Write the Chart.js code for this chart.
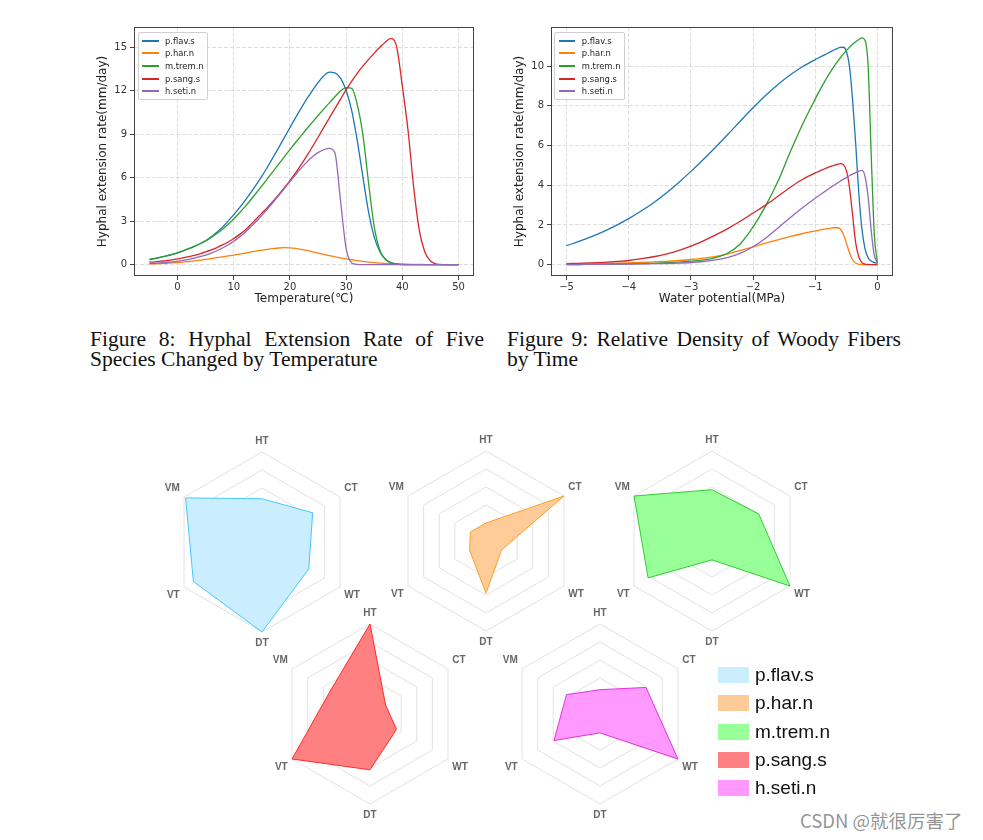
<!DOCTYPE html>
<html><head><meta charset="utf-8">
<script src="https://cdn.jsdelivr.net/npm/chart.js@4.4.1/dist/chart.umd.min.js"></script>
<style>
body{margin:0;background:#fff;}
#page{position:relative;width:983px;height:840px;overflow:hidden;background:#fff;}
canvas{position:absolute;}
.cap{position:absolute;font-family:'Liberation Serif','Times New Roman',serif;font-size:21.5px;line-height:20px;height:20px;color:#111;width:394px;}
.j{text-align:justify;text-align-last:justify;}
.lleg{position:absolute;background:rgba(255,255,255,0.85);border:1px solid #d0d0d0;border-radius:2px;box-sizing:border-box;}
.lrow{position:absolute;left:0;height:12px;width:100%;}
.lh{position:absolute;left:3.5px;top:5px;width:16.5px;height:2px;}
.lt{position:absolute;left:26.5px;top:0;line-height:12px;font-family:'DejaVu Sans',sans-serif;font-size:8.4px;color:#222;white-space:nowrap;}
.rrow{position:absolute;left:718px;height:16px;}
.rsw{position:absolute;left:0;top:0;width:31px;height:16px;}
.rt{position:absolute;left:37px;top:-4px;line-height:24px;font-family:'Liberation Sans',Arial,sans-serif;font-size:19px;color:#111;white-space:nowrap;}
#wm{position:absolute;left:800px;top:808px;font-family:'Noto Sans CJK SC',sans-serif;font-size:18.5px;line-height:24px;color:rgba(120,120,120,0.8);white-space:nowrap;}
</style></head>
<body><div id="page">
<canvas id="c1" width="410" height="300" style="left:80px;top:15px"></canvas>
<canvas id="c2" width="410" height="300" style="left:497px;top:15px"></canvas>
<div class="cap j" style="left:90px;top:329px">Figure 8:  Hyphal Extension Rate of Five</div>
<div class="cap" style="left:90px;top:349px">Species Changed by Temperature</div>
<div class="cap j" style="left:507px;top:329px">Figure 9: Relative Density of Woody Fibers</div>
<div class="cap" style="left:507px;top:349px">by Time</div>
<canvas id="r1" width="240" height="215" style="left:142px;top:435px"></canvas>
<canvas id="r2" width="240" height="215" style="left:366px;top:434px"></canvas>
<canvas id="r3" width="240" height="215" style="left:592px;top:434px"></canvas>
<canvas id="r4" width="240" height="215" style="left:250px;top:607px"></canvas>
<canvas id="r5" width="240" height="215" style="left:480px;top:607px"></canvas>
<div id="wm">CSDN @就很厉害了</div>
</div>
<script>
// ---------- data ----------
const seriesNames = ['p.flav.s','p.har.n','m.trem.n','p.sang.s','h.seti.n'];
const lineColors = ['#1f77b4','#ff7f0e','#2ca02c','#d62728','#9467bd'];

const tempX = [-5,-4,-3,-2,-1,0,1,2,3,4,5,6,7,8,9,10,11,12,13,14,15,16,17,18,19,20,21,22,23,24,25,26,27,28,29,30,31,32,33,34,35,36,37,38,39,40,41,42,43,44,45,46,47,48,49,50];
const flavT = [0.35,0.42,0.5,0.6,0.7,0.82,0.95,1.1,1.26,1.44, 1.65,1.92,2.23,2.59,3.0,3.45,3.92,4.42,4.95,5.51, 6.1,6.73,7.39,8.07,8.76,9.45,10.13,10.79,11.42,12.0, 12.55,13.0,13.27,13.22,12.85,12.0,10.6,8.5,6.0,3.6, 1.9,0.9,0.38,0.14,0.05,0.02,0,0,0,0, 0,0,0,0,0,0];
const harT = [0.05,0.06,0.08,0.1,0.12,0.15,0.18,0.22,0.26,0.31, 0.36,0.42,0.48,0.54,0.6,0.66,0.73,0.8,0.87,0.94, 1.0,1.06,1.11,1.15,1.17,1.16,1.12,1.06,0.98,0.89, 0.8,0.71,0.62,0.54,0.47,0.4,0.34,0.28,0.23,0.18, 0.14,0.11,0.09,0.07,0.05,0.04,0.03,0.02,0.02,0.01, 0.01,0.01,0,0,0,0];
const tremT = [0.37,0.44,0.52,0.61,0.71,0.82,0.95,1.1,1.26,1.44, 1.64,1.88,2.15,2.45,2.78,3.15,3.56,4.0,4.46,4.94, 5.43,5.93,6.43,6.93,7.43,7.93,8.42,8.9,9.37,9.83, 10.28,10.72,11.15,11.57,11.97,12.2,12.15,11.0,8.9,5.6, 2.6,1.0,0.35,0.12,0.04,0.01,0,0,0,0, 0,0,0,0,0,0];
const sangT = [0.17,0.2,0.24,0.28,0.33,0.4,0.47,0.55,0.64,0.75, 0.88,1.02,1.18,1.36,1.56,1.8,2.07,2.38,2.75,3.15, 3.55,3.95,4.37,4.82,5.3,5.8,6.33,6.9,7.5,8.13, 8.78,9.44,10.1,10.76,11.41,12.05,12.65,13.2,13.7,14.15, 14.58,14.98,15.35,15.6,15.0,12.3,9.3,5.4,2.4,0.88, 0.25,0.06,0.01,0,0,0];
const setiT = [0.08,0.1,0.12,0.15,0.19,0.24,0.3,0.37,0.45,0.55, 0.66,0.8,0.96,1.15,1.37,1.62,1.9,2.22,2.6,2.98, 3.4,3.84,4.3,4.77,5.25,5.73,6.2,6.65,7.07,7.43, 7.72,7.92,8.02,7.7,4.4,1.1,0.12,0.02,0,0, 0,0,0,0,0,0,0,0,0,0, 0,0,0,0,0,0];

const waterX = [-5,-4.8,-4.6,-4.4,-4.2,-4,-3.8,-3.6,-3.4,-3.2,-3,-2.8,-2.6,-2.4,-2.2,-2,-1.8,-1.6,-1.4,-1.2,-1,-0.95,-0.9,-0.85,-0.8,-0.75,-0.7,-0.65,-0.6,-0.55,-0.5,-0.45,-0.4,-0.35,-0.3,-0.25,-0.2,-0.15,-0.1,-0.05,0];
const flavW = [0.96,1.17,1.41,1.68,1.98,2.32,2.7,3.12,3.6,4.13,4.7,5.3,5.93,6.58,7.25,7.9,8.52,9.08,9.57,9.98,10.33, 10.41,10.49,10.57,10.65,10.73,10.81,10.88,10.94,10.95,10.75,10.0,8.3,6.1,3.6,1.8,0.8,0.35,0.18,0.1,0.07];
const harW = [0.02,0.03,0.04,0.05,0.07,0.09,0.11,0.14,0.17,0.21,0.26,0.33,0.42,0.55,0.72,0.9,1.08,1.25,1.42,1.57,1.7, 1.73,1.76,1.79,1.82,1.84,1.86,1.86,1.8,1.55,1.1,0.6,0.25,0.08,0.02,0.01,0,0,0,0,0];
const tremW = [0.01,0.01,0.02,0.02,0.03,0.04,0.05,0.07,0.1,0.13,0.18,0.24,0.36,0.6,1.07,1.9,2.95,4.2,5.7,7.1,8.35, 8.65,8.94,9.22,9.49,9.74,9.98,10.2,10.41,10.6,10.78,10.95,11.1,11.23,11.34,11.42,11.3,10.0,5.5,1.5,0.08];
const sangW = [0.05,0.07,0.09,0.12,0.16,0.21,0.3,0.4,0.53,0.71,0.93,1.2,1.5,1.83,2.2,2.6,3.0,3.45,3.9,4.3,4.62, 4.69,4.76,4.83,4.89,4.95,5.0,5.05,5.09,5.05,4.75,3.9,2.5,1.1,0.4,0.1,0.03,0.01,0,0,0];
const setiW = [0.01,0.01,0.02,0.02,0.03,0.03,0.04,0.05,0.06,0.08,0.11,0.16,0.24,0.37,0.58,0.9,1.33,1.85,2.38,2.88,3.35, 3.46,3.57,3.68,3.79,3.9,4.0,4.1,4.2,4.3,4.39,4.48,4.56,4.64,4.71,4.75,4.45,3.4,1.7,0.45,0.12];

const tempTicksX = [0,10,20,30,40,50];
const tempTicksY = [0,3,6,9,12,15];
const waterTicksX = [-5,-4,-3,-2,-1,0];
const waterTicksY = [0,2,4,6,8,10];

const radarAxes = ['HT','CT','WT','DT','VT','VM'];
const radarFlav = [2.4,3.25,3.0,5.0,4.4,4.9];
const radarHar  = [1.0,5.0,1.0,2.9,1.05,1.0];
const radarTrem = [2.85,3.0,5.0,1.05,4.1,5.0];
const radarSang = [5.0,1.0,1.7,3.1,5.0,2.55];
const radarSeti = [1.35,2.95,5.0,1.05,2.95,2.15];
const radarFill = ['#cbeeff','#ffcc99','#99ff99','#ff8080','#ff99ff'];
const radarLine = ['#44c8ff','#ff9f2a','#33cc33','#ff2a2a','#dd33dd'];

// ---------- line charts ----------
const framePlugin = {
  id: 'frame',
  afterDatasetsDraw(chart) {
    const a = chart.chartArea, ctx = chart.ctx;
    ctx.save();
    ctx.strokeStyle = '#444';
    ctx.lineWidth = 1;
    ctx.strokeRect(Math.round(a.left) + 0.5, Math.round(a.top) + 0.5, Math.round(a.right - a.left) - 1, Math.round(a.bottom - a.top) - 1);
    ctx.restore();
  }
};
const fmt = v => String(v).replace('-', '\u2212');

function makeLine(id, xs, series, xTicks, yTicks, xr, yr, xTitle, padRight) {
  new Chart(document.getElementById(id), {
    type: 'line',
    data: {
      datasets: series.map((ys, i) => ({
        label: seriesNames[i],
        data: xs.map((x, j) => ({x: x, y: ys[j]})),
        borderColor: lineColors[i],
        backgroundColor: lineColors[i],
        borderWidth: 1.3,
        pointRadius: 0,
        cubicInterpolationMode: 'monotone',
        fill: false,
        order: -i
      }))
    },
    options: {
      responsive: false, animation: false,
      layout: {padding: {top: 12, right: padRight, left: 0, bottom: 0}},
      plugins: {legend: {display: false}, tooltip: {enabled: false}},
      scales: {
        x: {
          type: 'linear', min: xr[0], max: xr[1],
          afterBuildTicks: s => { s.ticks = xTicks.map(v => ({value: v})); },
          afterFit: s => { s.height = 39; },
          ticks: {callback: fmt, font: {family: 'DejaVu Sans', size: 10}, color: '#333', padding: 1, maxRotation: 0, autoSkip: false},
          grid: {color: '#d6d6d6', lineWidth: 0.8, tickLength: 4, tickColor: '#444', tickWidth: 1, borderDash: [4, 2]},
          border: {display: false, dash: [4, 2]},
          title: {display: true, text: xTitle, font: {family: 'DejaVu Sans', size: 12}, color: '#222', padding: {top: 0, bottom: 9}}
        },
        y: {
          type: 'linear', min: yr[0], max: yr[1],
          afterBuildTicks: s => { s.ticks = yTicks.map(v => ({value: v})); },
          afterFit: s => { s.width = 54; },
          ticks: {callback: fmt, font: {family: 'DejaVu Sans', size: 10}, color: '#333', padding: 3, autoSkip: false},
          grid: {color: '#d6d6d6', lineWidth: 0.8, tickLength: 4, tickColor: '#444', tickWidth: 1, borderDash: [4, 2]},
          border: {display: false, dash: [4, 2]},
          title: {display: true, text: 'Hyphal extension rate(mm/day)', font: {family: 'DejaVu Sans', size: 12}, color: '#222', padding: {top: 16, bottom: 0}}
        }
      }
    },
    plugins: [framePlugin]
  });
}
makeLine('c1', tempX, [flavT, harT, tremT, sangT, setiT], tempTicksX, tempTicksY, [-7.75, 52.75], [-0.78, 16.38], 'Temperature(\u2103)', 16);
makeLine('c2', waterX, [flavW, harW, tremW, sangW, setiW], waterTicksX, waterTicksY, [-5.25, 0.25], [-0.57, 11.97], 'Water potential(MPa)', 14);

// legends inside line charts
function lineLegend(left, top, width) {
  const box = document.createElement('div');
  box.className = 'lleg';
  box.style.left = left + 'px'; box.style.top = top + 'px';
  box.style.width = width + 'px'; box.style.height = '68px';
  seriesNames.forEach((n, i) => {
    const row = document.createElement('div');
    row.className = 'lrow';
    row.style.top = (1.5 + i * 12.67) + 'px';
    const h = document.createElement('div'); h.className = 'lh'; h.style.background = lineColors[i];
    const t = document.createElement('div'); t.className = 'lt'; t.textContent = n;
    row.appendChild(h); row.appendChild(t); box.appendChild(row);
  });
  document.getElementById('page').appendChild(box);
}
lineLegend(137.5, 32.3, 70.5);
lineLegend(554.3, 32.3, 70.7);

// ---------- radar charts ----------
function makeRadar(id, vals, idx) {
  new Chart(document.getElementById(id), {
    type: 'radar',
    data: {labels: radarAxes, datasets: [{label: seriesNames[idx], data: vals, backgroundColor: radarFill[idx], borderColor: radarLine[idx], borderWidth: 1, pointRadius: 0, fill: true}]},
    options: {
      responsive: false, animation: false,
      layout: {padding: 0},
      plugins: {legend: {display: false}, tooltip: {enabled: false}},
      scales: {r: {
        min: 0, max: 5,
        ticks: {display: false, stepSize: 1},
        grid: {color: '#e2e2e2', lineWidth: 1},
        angleLines: {display: false},
        pointLabels: {font: {family: 'Liberation Sans', size: 10, weight: 'bold'}, color: '#666', padding: 5}
      }}
    }
  });
}
makeRadar('r1', radarFlav, 0);
makeRadar('r2', radarHar, 1);
makeRadar('r3', radarTrem, 2);
makeRadar('r4', radarSang, 3);
makeRadar('r5', radarSeti, 4);

// radar legend
seriesNames.forEach((n, i) => {
  const row = document.createElement('div');
  row.className = 'rrow';
  row.style.top = (667 + i * 28.33) + 'px';
  const s = document.createElement('div'); s.className = 'rsw'; s.style.background = radarFill[i];
  const t = document.createElement('div'); t.className = 'rt'; t.textContent = n;
  row.appendChild(s); row.appendChild(t);
  document.getElementById('page').appendChild(row);
});
</script>
</body></html>
